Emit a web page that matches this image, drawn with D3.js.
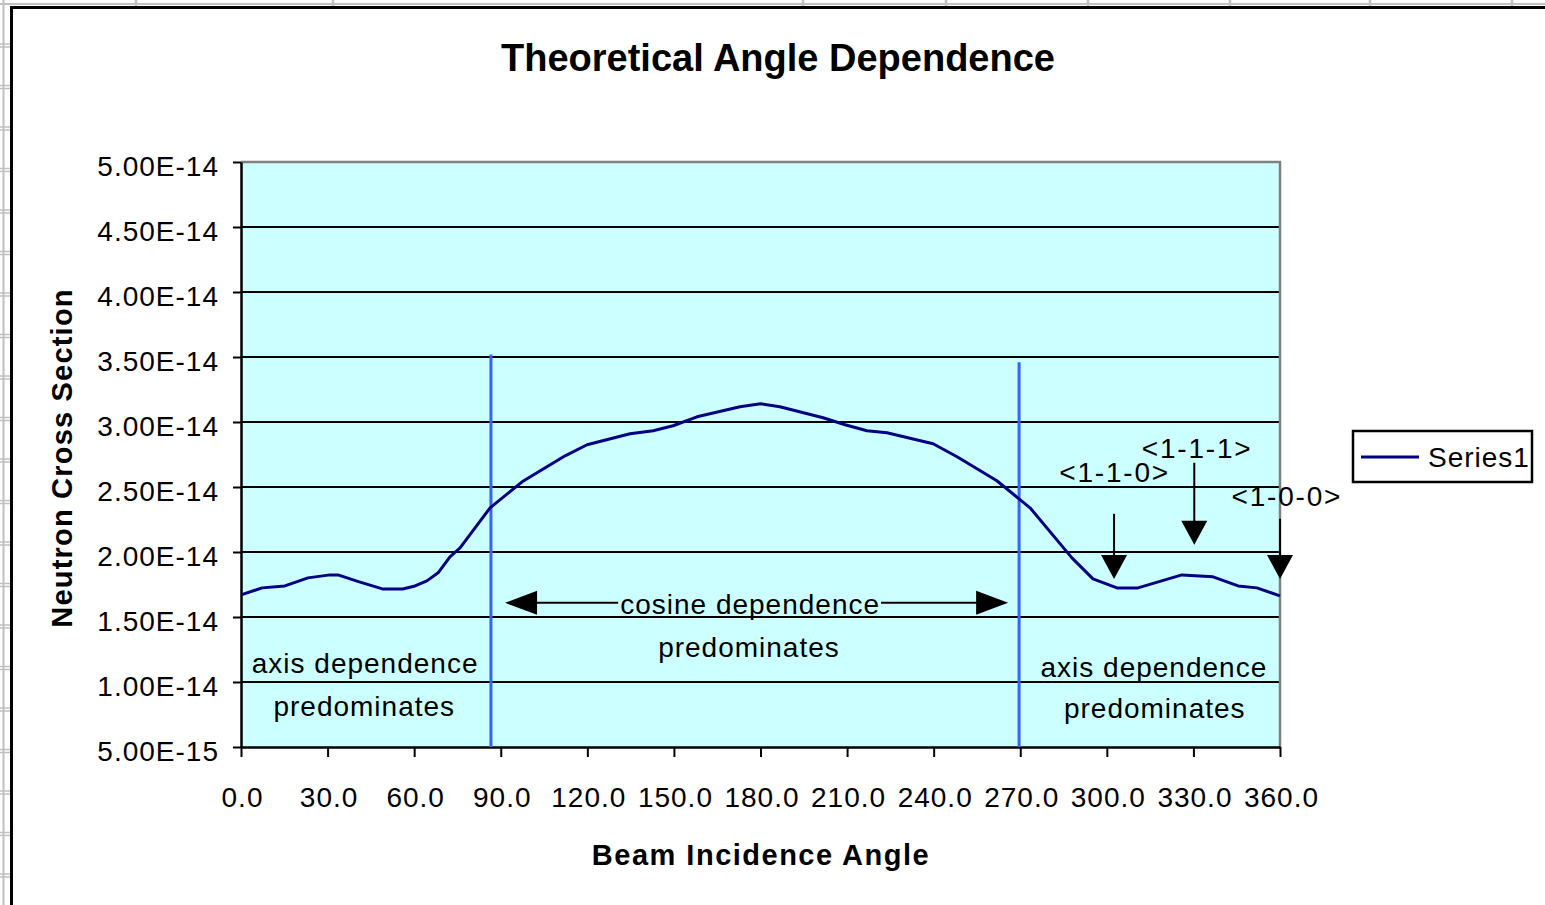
<!DOCTYPE html>
<html><head><meta charset="utf-8">
<script src="https://cdn.jsdelivr.net/npm/d3@7"></script>
<style>html,body{margin:0;padding:0;background:#fff;overflow:hidden}svg{display:block}</style>
</head><body>
<script>
// ---- data ----
const angles = [0, 7.3, 15.2, 23.2, 30.8, 33.6, 41, 49, 56, 60.3, 64.4, 68.3, 72.4, 75.9, 86.3, 97.4, 112.3, 119.9, 134.8, 142.8, 149.7, 158, 172.9, 180, 186.7, 201.7, 209.3, 216.9, 223.8, 239.8, 248.1, 261.9, 273.4, 287.9, 295.2, 303.5, 310.8, 326, 336.8, 345.5, 352, 360];
const crossSection = [1.670e-14, 1.724e-14, 1.739e-14, 1.801e-14, 1.824e-14, 1.824e-14, 1.770e-14, 1.716e-14, 1.716e-14, 1.739e-14, 1.778e-14, 1.840e-14, 1.963e-14, 2.032e-14, 2.340e-14, 2.540e-14, 2.740e-14, 2.825e-14, 2.910e-14, 2.933e-14, 2.971e-14, 3.040e-14, 3.117e-14, 3.140e-14, 3.117e-14, 3.033e-14, 2.979e-14, 2.933e-14, 2.917e-14, 2.833e-14, 2.733e-14, 2.548e-14, 2.340e-14, 1.955e-14, 1.793e-14, 1.724e-14, 1.724e-14, 1.824e-14, 1.809e-14, 1.739e-14, 1.724e-14, 1.662e-14];
const seriesName = "Series1";
const xTicks = [0, 30, 60, 90, 120, 150, 180, 210, 240, 270, 300, 330, 360];
const xTickLabels = ["0.0","30.0","60.0","90.0","120.0","150.0","180.0","210.0","240.0","270.0","300.0","330.0","360.0"];
const yTicks = [5e-15, 1e-14, 1.5e-14, 2e-14, 2.5e-14, 3e-14, 3.5e-14, 4e-14, 4.5e-14, 5e-14];
const yTickLabels = ["5.00E-15","1.00E-14","1.50E-14","2.00E-14","2.50E-14","3.00E-14","3.50E-14","4.00E-14","4.50E-14","5.00E-14"];
const titleText = "Theoretical Angle Dependence";
const xTitle = "Beam Incidence Angle";
const yTitle = "Neutron Cross Section";
// region boundary markers (angle, top value)
const boundaryAngles = [86.6, 269.6];
const boundaryTops = [3.52e-14, 3.46e-14];
// crystal axis pointers: label, angle, arrow top value, tip value
const axisLabels = ["<1-1-0>", "<1-1-1>", "<1-0-0>"];
const axisAngles = [302.5, 330.3, 360];
const axisArrowTop = [2.294e-14, 2.686e-14, 2.255e-14];
const axisArrowTip = [1.793e-14, 2.055e-14, 1.793e-14];

const W = 1545, H = 905;
const FONT = "'Liberation Sans', Arial, Helvetica, sans-serif";
const svg = d3.select("body").append("svg").attr("width", W).attr("height", H)
  .style("font-family", FONT);

// spreadsheet background lines
const sg = svg.append("g").attr("stroke", "#c0c0c0").attr("fill", "none");
sg.append("line").attr("x1", 0).attr("x2", W).attr("y1", 4).attr("y2", 4).attr("stroke-width", 2);
sg.append("line").attr("x1", 3.5).attr("x2", 3.5).attr("y1", 0).attr("y2", H).attr("stroke-width", 2);
[136, 333, 803, 946, 1088, 1230, 1370, 1512].forEach(c => {
  sg.append("line").attr("x1", c).attr("x2", c).attr("y1", 0).attr("y2", 9).attr("stroke-width", 2.5);
});
for (let r = 45.5; r < H; r += 41.5) {
  sg.append("line").attr("x1", 0).attr("x2", 12).attr("y1", r - 1.5).attr("y2", r - 1.5).attr("stroke-width", 1.5);
  sg.append("line").attr("x1", 0).attr("x2", 12).attr("y1", r + 1.5).attr("y2", r + 1.5).attr("stroke-width", 1.5);
}
// chart area
svg.append("rect").attr("x", 11.5).attr("y", 7.5).attr("width", W + 10).attr("height", H + 10)
  .attr("fill", "#fff").attr("stroke", "#000").attr("stroke-width", 3);

const L = 241, R = 1280, T = 162, B = 747;
const x = d3.scaleLinear().domain([0, 360]).range([L, R]);
const y = d3.scaleLinear().domain([5e-15, 5e-14]).range([B, T]);

// plot area
svg.append("rect").attr("x", L).attr("y", T).attr("width", R - L).attr("height", B - T).attr("fill", "#CCFFFF");
// gridlines
svg.append("g").selectAll("line").data(yTicks.slice(1, -1)).join("line")
  .attr("x1", L).attr("x2", R).attr("y1", d => y(d)).attr("y2", d => y(d))
  .attr("stroke", "#000").attr("stroke-width", 1.8);
// plot border (gray top/right)
svg.append("path").attr("d", `M${L},${T}H${R}V${B}`).attr("fill", "none").attr("stroke", "#808080").attr("stroke-width", 2.5);

// axes
const yAxis = svg.append("g").attr("transform", `translate(${L},0)`)
  .call(d3.axisLeft(y).tickValues(yTicks).tickFormat((d, i) => yTickLabels[i]).tickSize(8).tickPadding(14).tickSizeOuter(0));
const xAxis = svg.append("g").attr("transform", `translate(0,${B})`)
  .call(d3.axisBottom(x).tickValues(xTicks).tickFormat((d, i) => xTickLabels[i]).tickSize(10).tickPadding(30).tickSizeOuter(0));
[yAxis, xAxis].forEach(a => {
  a.select(".domain").attr("stroke", "#000").attr("stroke-width", 2.5);
  a.selectAll(".tick line").attr("stroke", "#000").attr("stroke-width", 2);
  a.selectAll("text").attr("fill", "#000").style("font-size", "28px").style("font-family", FONT).style("letter-spacing", "1px");
});
yAxis.selectAll("text").attr("dy", "0.48em");
xAxis.selectAll("text").attr("dx", "1");

// boundary lines
svg.append("g").selectAll("line").data(boundaryAngles).join("line")
  .attr("x1", d => x(d)).attr("x2", d => x(d))
  .attr("y1", (d, i) => y(boundaryTops[i])).attr("y2", B)
  .attr("stroke", "#3366FF").attr("stroke-width", 3);

// series line
const pts = angles.map((a, i) => [a, crossSection[i]]);
svg.append("path").datum(pts)
  .attr("d", d3.line().x(d => x(d[0])).y(d => y(d[1])))
  .attr("fill", "none").attr("stroke", "#000080").attr("stroke-width", 3).attr("stroke-linejoin", "round");

// text helper
function txt(s, px, py, opts = {}) {
  return svg.append("text").attr("x", px).attr("y", py).text(s)
    .attr("text-anchor", opts.anchor || "middle")
    .style("font-size", (opts.size || 28) + "px")
    .style("font-weight", opts.bold ? "bold" : "normal")
    .style("letter-spacing", (opts.ls != null ? opts.ls : 1) + "px")
    .attr("fill", "#000");
}

// annotations: region texts
txt("axis dependence", x(43), 673);
txt("predominates", x(42.7), 716);
txt("axis dependence", x(316.3), 677);
txt("predominates", x(316.6), 718);

// cosine dependence double arrow
const arrY = y(1.609e-14);
const aL = x(91.5), aR = x(265.8);
const cosT = txt("cosine dependence", x(176.4), arrY + 11);
txt("predominates", x(176), arrY + 54);
const bb = cosT.node().getBBox();
const hw = 32, hh = 12;
svg.append("line").attr("x1", aL + hw - 2).attr("x2", bb.x - 2).attr("y1", arrY).attr("y2", arrY).attr("stroke", "#000").attr("stroke-width", 2);
svg.append("line").attr("x1", bb.x + bb.width + 1).attr("x2", aR - hw + 2).attr("y1", arrY).attr("y2", arrY).attr("stroke", "#000").attr("stroke-width", 2);
svg.append("path").attr("d", `M${aL},${arrY}L${aL + hw},${arrY - hh}L${aL + hw},${arrY + hh}Z`).attr("fill", "#000");
svg.append("path").attr("d", `M${aR},${arrY}L${aR - hw},${arrY - hh}L${aR - hw},${arrY + hh}Z`).attr("fill", "#000");

// crystal axis pointers
const labelPos = [[x(302.7), 482], [x(331.3), 458], [x(362.4), 506]];
axisLabels.forEach((s, i) => {
  txt(s, labelPos[i][0], labelPos[i][1], {ls: 1.8});
  const ax = x(axisAngles[i]), top = y(axisArrowTop[i]), tip = y(axisArrowTip[i]);
  svg.append("line").attr("x1", ax).attr("x2", ax).attr("y1", top).attr("y2", tip - 20).attr("stroke", "#000").attr("stroke-width", 2);
  svg.append("path").attr("d", `M${ax},${tip}L${ax - 13},${tip - 24}L${ax + 13},${tip - 24}Z`).attr("fill", "#000");
});

// title and axis titles
txt(titleText, 778, 71, {size: 38, bold: true, ls: 0});
txt(xTitle, 761, 865, {size: 29, bold: true, ls: 1.5});
txt(yTitle, 0, 0, {size: 29, bold: true, ls: 1.2}).attr("transform", "translate(72,458) rotate(-90)");

// legend
svg.append("rect").attr("x", 1353).attr("y", 431).attr("width", 179).attr("height", 51)
  .attr("fill", "#fff").attr("stroke", "#000").attr("stroke-width", 2.5);
svg.append("line").attr("x1", 1361).attr("x2", 1419).attr("y1", 457).attr("y2", 457).attr("stroke", "#000080").attr("stroke-width", 3);
txt(seriesName, 1428, 467, {anchor: "start"});
</script>
</body></html>
